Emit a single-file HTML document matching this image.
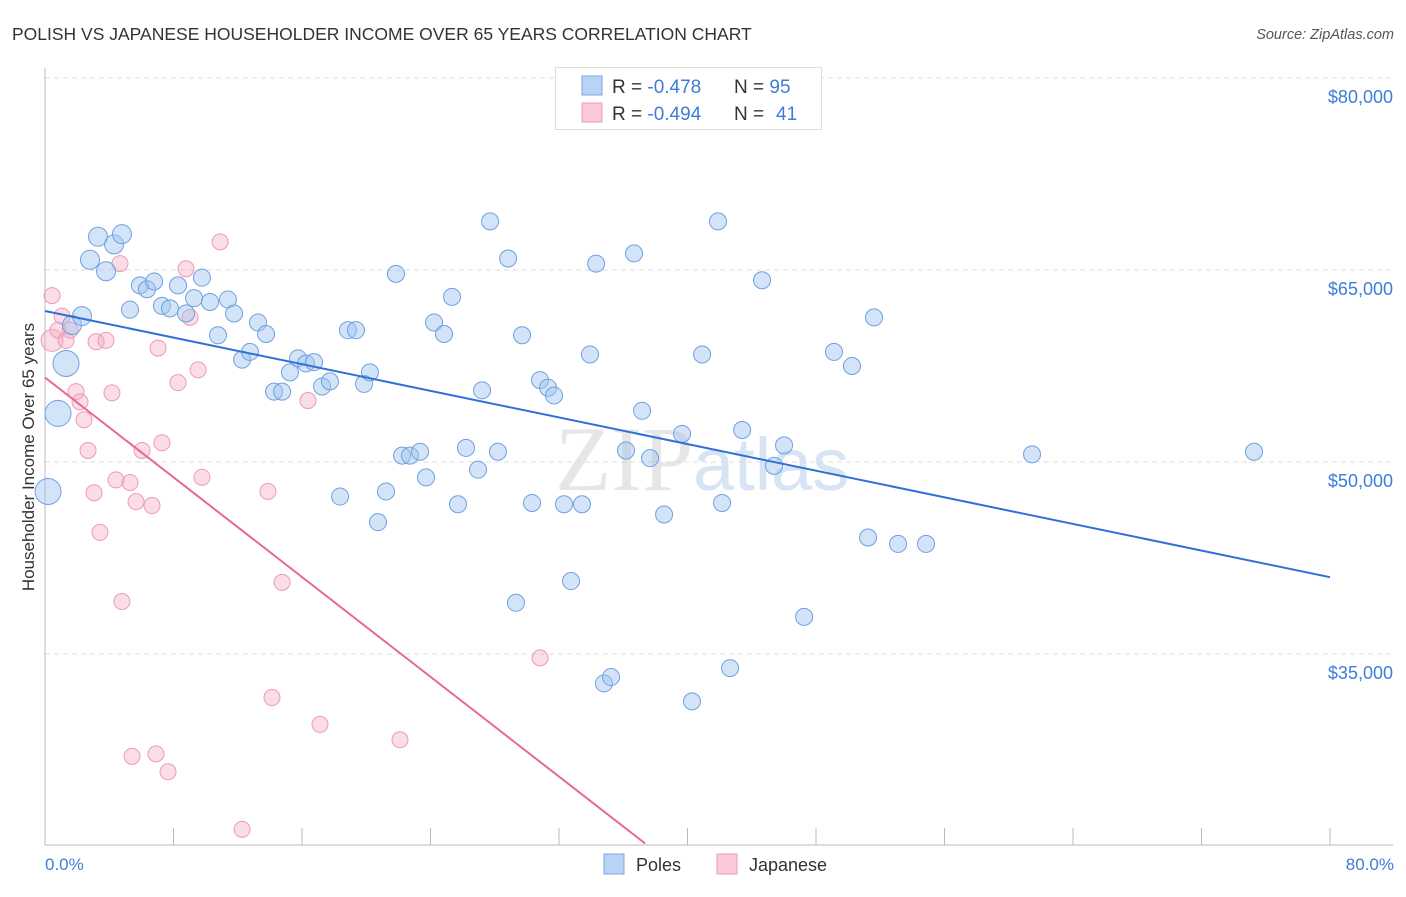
<!DOCTYPE html>
<html><head><meta charset="utf-8"><style>
body{margin:0;background:#fff;width:1406px;height:892px;overflow:hidden;font-family:"Liberation Sans",sans-serif;}
</style></head><body>
<svg id="chart" width="1406" height="892" xmlns="http://www.w3.org/2000/svg">
<text x="12" y="40" font-size="17.5" fill="#333">POLISH VS JAPANESE HOUSEHOLDER INCOME OVER 65 YEARS CORRELATION CHART</text>
<text x="1394" y="39" font-size="14.5" fill="#555" font-style="italic" text-anchor="end">Source: ZipAtlas.com</text>
<text x="555" y="490" font-size="92" fill="#e6e6e6" font-family="Liberation Serif,serif">ZIP<tspan fill="#d6e4f4" font-family="Liberation Sans,sans-serif" font-size="74">atlas</tspan></text>
<g id="grid"></g>
<g id="axes"></g>
<g id="marks"></g>
<text transform="translate(34,457) rotate(-90)" font-size="17" fill="#333" text-anchor="middle">Householder Income Over 65 years</text>
<text x="45" y="870" font-size="17" fill="#3d7dd8">0.0%</text>
<text x="1394" y="870" font-size="17" fill="#3d7dd8" text-anchor="end">80.0%</text>
<g>
<rect x="555.5" y="67.5" width="266" height="62" fill="#fff" stroke="#ddd"/>
<rect x="582" y="76" width="20" height="19" fill="#b9d3f5" stroke="#7aa8e6"/>
<rect x="582" y="103" width="20" height="19" fill="#fcc9d8" stroke="#ee9ab5"/>
<text x="612" y="93" font-size="19" fill="#333">R = <tspan fill="#3d7dd8">-0.478</tspan><tspan x="734">N = </tspan><tspan fill="#3d7dd8">95</tspan></text>
<text x="612" y="120" font-size="19" fill="#333">R = <tspan fill="#3d7dd8">-0.494</tspan><tspan x="734">N = </tspan><tspan fill="#3d7dd8" x="776">41</tspan></text>
</g>
<g>
<rect x="604" y="854" width="20" height="20" fill="#b9d3f5" stroke="#7aa8e6"/>
<text x="636" y="871" font-size="18" fill="#333">Poles</text>
<rect x="717" y="854" width="20" height="20" fill="#fcc9d8" stroke="#ee9ab5"/>
<text x="749" y="871" font-size="18" fill="#333">Japanese</text>
</g>
</svg>
<script>
const yTicks=[35000,50000,65000,80000];
const yTickLabels=["$35,000","$50,000","$65,000","$80,000"];
const xTicks=[0,8,16,24,32,40,48,56,64,72,80];
const polesX=[0.19,0.81,1.31,1.68,2.30,2.80,3.30,3.80,4.30,4.79,5.29,5.91,6.35,6.79,7.28,7.78,8.28,8.78,9.28,9.77,10.27,10.77,11.39,11.77,12.27,12.76,13.26,13.76,14.26,14.76,15.25,15.75,16.25,16.75,17.25,17.74,18.37,18.86,19.36,19.86,20.23,20.73,21.23,21.85,22.23,22.72,23.35,23.72,24.22,24.84,25.34,25.71,26.21,26.96,27.21,27.71,28.20,28.83,29.32,29.70,30.32,30.82,31.32,31.69,32.31,32.75,33.43,33.93,34.31,34.80,35.24,36.17,36.67,37.17,37.67,38.54,39.66,40.28,40.91,41.90,42.15,42.65,43.40,44.64,45.39,46.01,47.26,49.12,50.24,51.24,51.61,53.11,54.85,61.45,75.27];
const polesY=[47.7,53.8,57.7,60.7,61.4,65.8,67.6,64.9,67.0,67.8,61.9,63.8,63.5,64.1,62.2,62.0,63.8,61.6,62.8,64.4,62.5,59.9,62.7,61.6,58.0,58.6,60.9,60.0,55.5,55.5,57.0,58.1,57.7,57.8,55.9,56.3,47.3,60.3,60.3,56.1,57.0,45.3,47.7,64.7,50.5,50.5,50.8,48.8,60.9,60.0,62.9,46.7,51.1,49.4,55.6,68.8,50.8,65.9,39.0,59.9,46.8,56.4,55.8,55.2,46.7,40.7,46.7,58.4,65.5,32.7,33.2,50.9,66.3,54.0,50.3,45.9,52.2,31.3,58.4,68.8,46.8,33.9,52.5,64.2,49.7,51.3,37.9,58.6,57.5,44.1,61.3,43.6,43.6,50.6,50.8];
const japX=[0.44,0.44,0.81,1.06,1.31,1.56,1.93,2.18,2.43,2.68,3.05,3.18,3.42,3.80,4.17,4.42,4.67,4.79,5.29,5.42,5.67,6.04,6.66,6.91,7.04,7.28,7.66,8.28,8.78,9.03,9.53,9.77,10.90,12.27,13.88,14.13,14.76,16.37,17.12,22.10,30.82];
const japY=[63.0,59.5,60.3,61.4,59.5,60.3,55.5,54.7,53.3,50.9,47.6,59.4,44.5,59.5,55.4,48.6,65.5,39.1,48.4,27.0,46.9,50.9,46.6,27.2,58.9,51.5,25.8,56.2,65.1,61.3,57.2,48.8,67.2,21.3,47.7,31.6,40.6,54.8,29.5,28.3,34.7];
const polesTrend=[61.8,41.0];
const japTrend=[56.6,20.2];
const japTrendEndX=37.36;
const NS="http://www.w3.org/2000/svg";
const X=p=>45+p*1285/80;
const Y=v=>78+(80-v)*12.8;
function mk(tag,attrs,parent){const e=document.createElementNS(NS,tag);for(const k in attrs)e.setAttribute(k,attrs[k]);parent.appendChild(e);return e;}
const grid=document.getElementById('grid'),axes=document.getElementById('axes'),marks=document.getElementById('marks');
yTicks.forEach((t,i)=>{
 const l=mk('line',{x1:45,x2:1393,y1:Y(t/1000),y2:Y(t/1000),stroke:'#ddd','stroke-dasharray':'5,4'},grid);
 
 
 const tx=mk('text',{x:1393,y:Y(t/1000)+25,'font-size':18,fill:'#3d7dd8','text-anchor':'end'},grid);
 tx.textContent=yTickLabels[i];
 
 
});
mk('line',{x1:45,x2:45,y1:68,y2:845,stroke:'#bbb'},axes);
mk('line',{x1:45,x2:1393,y1:845,y2:845,stroke:'#bbb'},axes);
xTicks.forEach(t=>{
 const l=mk('line',{x1:X(t),x2:X(t),y1:828,y2:845,stroke:'#bbb'},axes);
 
 
});
japX.forEach((x,i)=>{
 const c=mk('circle',{cx:X(x),cy:Y(japY[i]),r:i===1?11:8,fill:'rgba(245,170,195,0.4)',stroke:'#ee9ab5','stroke-width':1},marks);
 
 
});
polesX.forEach((x,i)=>{
 const big=i<3?13:(i<10?9.5:8.5);
 const c=mk('circle',{cx:X(x),cy:Y(polesY[i]),r:big,fill:'rgba(160,195,240,0.45)',stroke:'#6fa0e0','stroke-width':1},marks);
 
 
});
const bl=mk('line',{x1:X(0),y1:Y(polesTrend[0]),x2:X(80),y2:Y(polesTrend[1]),stroke:'#2f6fd6','stroke-width':2},marks);


const pl=mk('line',{x1:X(0),y1:Y(japTrend[0]),x2:X(japTrendEndX),y2:Y(japTrend[1]),stroke:'#e8679a','stroke-width':2},marks);


</script>
</body></html>
